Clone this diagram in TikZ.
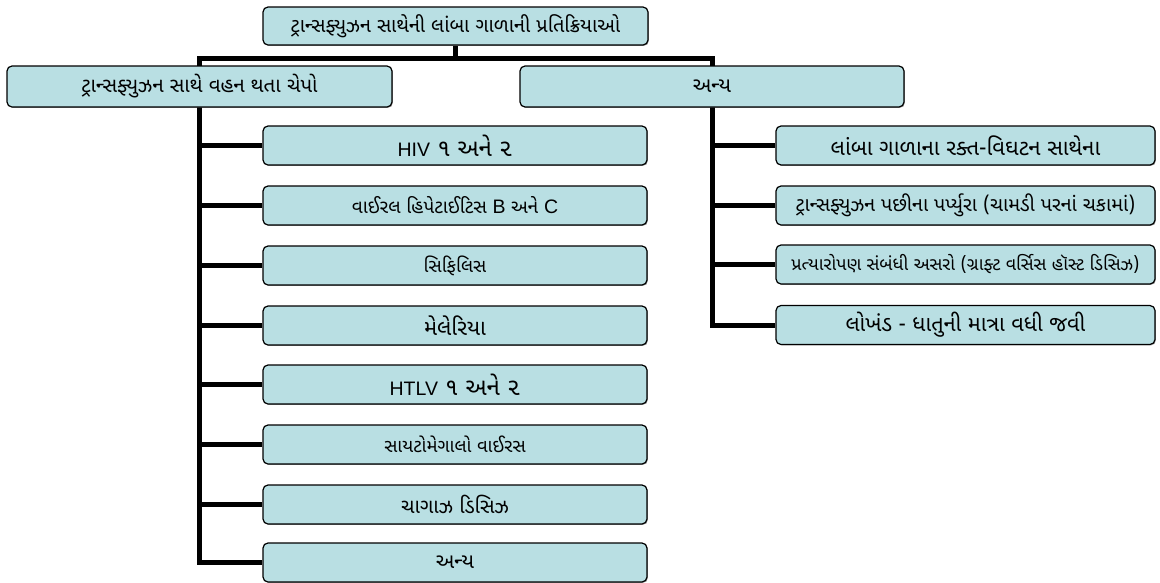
\documentclass[tikz,border=0pt]{standalone}
\usepackage{fontspec}
\newfontfamily\guj[Script=Gujarati]{Noto Sans Gujarati UI}
\newfontfamily\latf{Liberation Sans}
\newcommand{\lat}[1]{{\latf\fontsize{19.5}{19.5}\selectfont #1}}
\usetikzlibrary{backgrounds,shadows}
\definecolor{boxfill}{RGB}{185,223,227}
\tikzset{
  box/.style={draw=black, line width=1.2pt, fill=boxfill, rounded corners=5pt,
    inner sep=0pt, align=center,
    drop shadow={shadow xshift=0.9pt, shadow yshift=-0.9pt, fill=black!60, opacity=0.6}},
  conn/.style={draw=black, line width=5pt, line join=miter},
  fs/.style={font=\guj\fontsize{#1}{#1}\selectfont}
}
\begin{document}
\begin{tikzpicture}[x=1pt,y=-1pt]
\useasboundingbox (0,0) rectangle (1160,582);
% top level
\node[box, fs=20, minimum width=385pt, minimum height=38pt] (top) at (455.5,26) {ટ્રાન્સફ્યુઝન સાથેની લાંબા ગાળાની પ્રતિક્રિયાઓ};
% level 2
\node[box, fs=20.5, minimum width=385pt, minimum height=41pt] (L) at (199.5,86.5) {ટ્રાન્સફ્યુઝન સાથે વહન થતા ચેપો};
\node[box, fs=21, minimum width=384pt, minimum height=41pt] (R) at (712,86.5) {અન્ય};
% left children
\tikzset{lc/.style={box, minimum width=384pt, minimum height=39pt}}
\node[lc, fs=24] (l1) at (455,145.5) {\lat{HIV} ૧ અને ૨};
\node[lc, fs=19] (l2) at (455,205.5) {વાઈરલ હિપેટાઈટિસ \lat{B} અને \lat{C}};
\node[lc, fs=18.5] (l3) at (455,265.5) {સિફિલિસ};
\node[lc, fs=22] (l4) at (455,325.5) {મેલેરિયા};
\node[lc, fs=24] (l5) at (455,384.5) {\lat{HTLV} ૧ અને ૨};
\node[lc, fs=18.5] (l6) at (455,444.5) {સાયટોમેગાલો વાઈરસ};
\node[lc, fs=20.5] (l7) at (455,504.5) {ચાગાઝ ડિસિઝ};
\node[lc, fs=21] (l8) at (455,562.5) {અન્ય};
% right children
\tikzset{rc/.style={box, minimum width=379pt, minimum height=39pt}}
\node[rc, fs=22] (r1) at (965.5,145.5) {લાંબા ગાળાના રક્ત-વિઘટન સાથેના};
\node[rc, fs=19.8] (r2) at (965.5,205.5) {ટ્રાન્સફ્યુઝન પછીના પર્પ્યુરા (ચામડી પરનાં ચકામાં)};
\node[rc, fs=18] (r3) at (965.5,264.5) {પ્રત્યારોપણ સંબંધી અસરો (ગ્રાફ્ટ વર્સિસ હૉસ્ટ ડિસિઝ)};
\node[rc, fs=21.7] (r4) at (965.5,325) {લોખંડ - ધાતુની માત્રા વધી જવી};
\coordinate (j) at (455.5,58);
\begin{scope}[on background layer]
  \draw[conn] (top.south) -- (j);
  \draw[conn] (L.center) -- (L.center |- j) -- (R.center |- j) -- (R.center);
  \draw[conn] (L.center) |- (l8.west);
  \foreach \n in {l1,l2,l3,l4,l5,l6,l7}
    \draw[conn] (L.center |- \n.west) -- (\n.west);
  \draw[conn] (R.center) |- (r4.west);
  \foreach \n in {r1,r2,r3}
    \draw[conn] (R.center |- \n.west) -- (\n.west);
\end{scope}
\end{tikzpicture}
\end{document}
